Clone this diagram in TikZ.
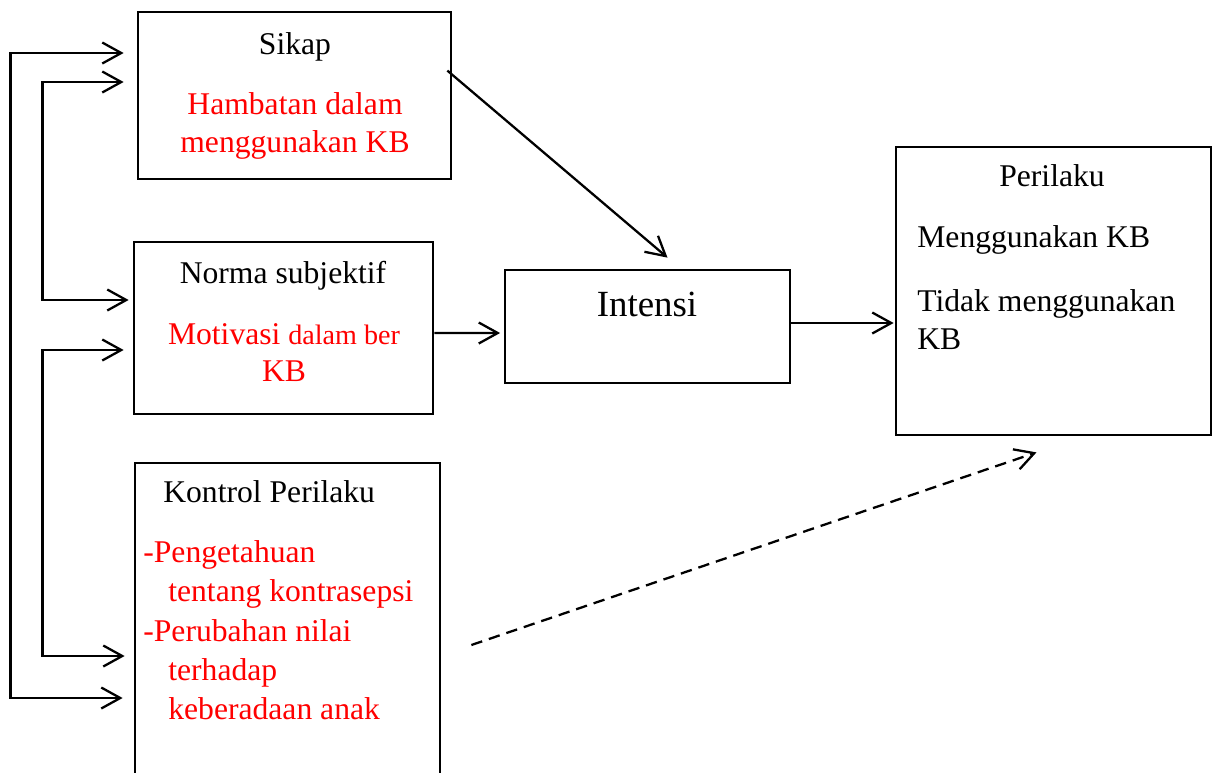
\documentclass[tikz,border=0pt]{standalone}
\usepackage{fontspec}
\setmainfont{Liberation Serif}
\usetikzlibrary{arrows.meta,calc}
\tikzset{
  box/.style={draw, line width=1.6pt, inner sep=0pt},
  lbl/.style={anchor=base, inner sep=0pt, font=\fontsize{18}{22}\selectfont},
  lbll/.style={lbl, anchor=base west},
  red lbl/.style={lbl, red},
  red lbll/.style={lbll, red},
  fl/.style={-{Straight Barb[length=3.8mm,width=4.2mm]}, line width=1.3pt},
  bl/.style={{Straight Barb[length=3.8mm,width=4.2mm]}-{Straight Barb[length=3.8mm,width=4.2mm]}, line width=1.3pt},
}
\begin{document}
\begin{tikzpicture}[x=0.02cm, y=-0.02cm]
\useasboundingbox (0,0) rectangle (1218,772);
% boxes
\node[box, minimum width=6.26cm, minimum height=3.34cm] (sikap) at (294.5,95.5) {};
\node[box, minimum width=5.98cm, minimum height=3.44cm] (norma) at (283.5,328) {};
\node[box, minimum width=6.1cm, minimum height=6.54cm] (kontrol) at (287.5,626.5) {};
\node[box, minimum width=5.7cm, minimum height=2.26cm] (intensi) at (647.5,326.5) {};
\node[box, minimum width=6.3cm, minimum height=5.76cm] (perilaku) at (1053.5,291) {};
% texts
\node[lbl] (sikapT) at (295,54) {Sikap};
\node[red lbl] (sikapA) at (295,114) {Hambatan dalam};
\node[red lbl] (sikapB) at (295,152) {menggunakan KB};
\node[lbl] (normaT) at (283,283) {Norma subjektif};
\node[red lbl] (normaA) at (284,344) {Motivasi {\fontsize{16}{19}\selectfont dalam ber}};
\node[red lbl] (normaB) at (284,381) {KB};
\node[lbll] (kontrolT) at (163,502) {Kontrol Perilaku};
\node[red lbll] (kontrolA) at (143,562) {-Pengetahuan};
\node[red lbll] (kontrolB) at (168,601) {tentang kontrasepsi};
\node[red lbll] (kontrolC) at (143,641) {-Perubahan nilai};
\node[red lbll] (kontrolD) at (168,680) {terhadap};
\node[red lbll] (kontrolE) at (168,719) {keberadaan anak};
\node[lbl, font=\fontsize{21}{25}\selectfont] (intensiT) at (647,316) {Intensi};
\node[lbl] (perilakuT) at (1052,186) {Perilaku};
\node[lbll] (perilakuA) at (917,247) {Menggunakan KB};
\node[lbll] (perilakuB) at (917,311) {Tidak menggunakan};
\node[lbll] (perilakuC) at (917,349) {KB};
% connector ends
\coordinate (sOut) at ($(sikap.west)+(-13,-42.5)$);
\coordinate (sIn) at ($(sikap.west)+(-13,-13.5)$);
\coordinate (nUp) at ($(norma.west)+(-4,-28)$);
\coordinate (nLo) at ($(norma.west)+(-9,22)$);
\coordinate (kIn) at ($(kontrol.west)+(-9,29.5)$);
\coordinate (kOut) at ($(kontrol.west)+(-11,71.5)$);
\coordinate (sStart) at ($(sikap.north east)+(-5,60)$);
\coordinate (iTip) at ($(intensi.north)+(20,-11)$);
\coordinate (kStart) at ($(kontrol.east)+(30,18.5)$);
\coordinate (pTip) at ($(perilaku.south)+(-17,16)$);
% connectors
\draw[bl] (sOut) -- ++(-113,0) |- (kOut);
\draw[bl] (sIn) -- ++(-81,0) |- (nUp);
\draw[bl] (nLo) -- ++(-81,0) |- (kIn);
\draw[fl] (sStart) -- (iTip);
\draw[fl, shorten >=2pt] ($(norma.east)+(0,5)$) -- ($(intensi.west)+(0,6.5)$);
\draw[fl] ($(intensi.east)+(0,-3.5)$) -- ($(perilaku.west)+(-1,32)$);
\draw[fl, dashed, dash pattern=on 6.5pt off 4pt] (kStart) -- (pTip);
\end{tikzpicture}
\end{document}
